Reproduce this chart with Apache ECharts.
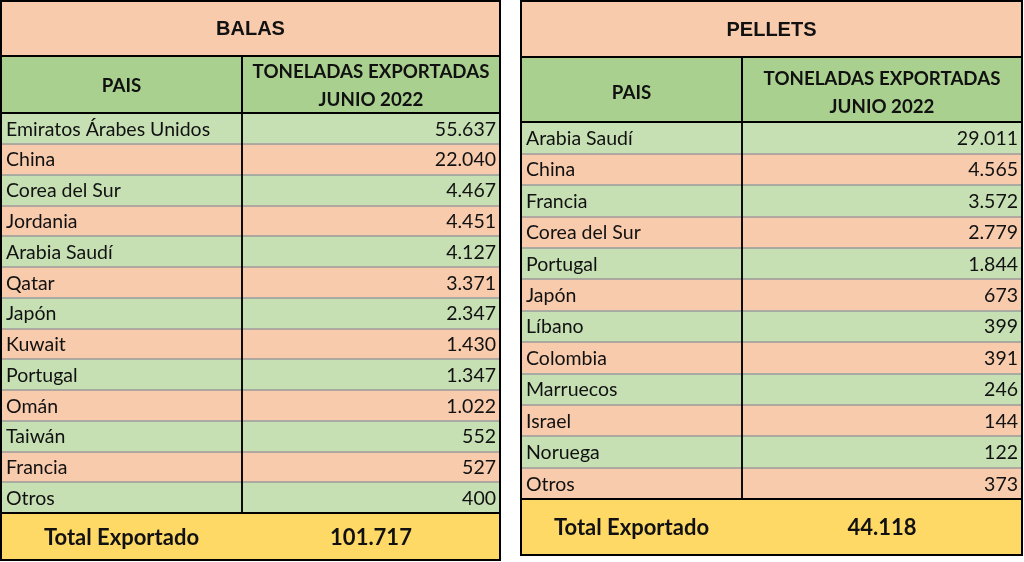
<!DOCTYPE html>
<html><head><meta charset="utf-8">
<script src="https://cdn.jsdelivr.net/npm/echarts@6/dist/echarts.min.js"></script>
<style>html,body{margin:0;padding:0;background:#fff}#c{width:1024px;height:562px}</style>
</head><body><div id="c"></div><script>
// ---------- data ----------
const balasTitle = 'BALAS';
const balasPaises = ['Emiratos Árabes Unidos','China','Corea del Sur','Jordania','Arabia Saudí','Qatar','Japón','Kuwait','Portugal','Omán','Taiwán','Francia','Otros'];
const balasToneladas = [55637,22040,4467,4451,4127,3371,2347,1430,1347,1022,552,527,400];
const balasTotal = 101717;

const pelletsTitle = 'PELLETS';
const pelletsPaises = ['Arabia Saudí','China','Francia','Corea del Sur','Portugal','Japón','Líbano','Colombia','Marruecos','Israel','Noruega','Otros'];
const pelletsToneladas = [29011,4565,3572,2779,1844,673,399,391,246,144,122,373];
const pelletsTotal = 44118;

const headerLabels = ['PAIS', 'TONELADAS EXPORTADAS\nJUNIO 2022'];
const totalLabel = 'Total Exportado';

// ---------- style ----------
const SALMON = '#F8CBAD', GREEN_H = '#A9D08E', GREEN_L = '#C6E0B4', GOLD = '#FFD966';
const TXT = '#111';
const F_TITLE = 'bold 20px "Liberation Sans", Arial, sans-serif';
const F_HEAD = 'bold 18.7px Lato, sans-serif';
const F_DATA = '19.5px Lato, sans-serif';
const F_TOTAL = 'bold 22px Lato, sans-serif';

function fmt(v) { return String(v).replace(/\B(?=(\d{3})+(?!\d))/g, '.'); }

const grids = [], xAxes = [], yAxes = [], series = [];

function hiddenCat(gi, data, inverse, splitShow, splitColor) {
  return {type: 'category', gridIndex: gi, data: data, inverse: inverse, boundaryGap: true,
    axisLine: {show: false}, axisTick: {show: false}, axisLabel: {show: false},
    splitLine: {show: splitShow, lineStyle: {color: splitColor, width: 1.5}}, z: 7};
}

// one column of cells (one grid, one category column, rows on a category y axis)
function addColumn(box, colName, rowCats, cells, rowLines, border) {
  const gi = grids.length;
  grids.push({left: box.left, top: box.top, width: box.width, height: box.height,
    show: border > 0, borderColor: '#000', borderWidth: border, backgroundColor: 'transparent', z: 10});
  xAxes.push(hiddenCat(gi, [colName], false, false, '#000'));
  yAxes.push(hiddenCat(gi, rowCats, true, rowLines, '#9a9a9a'));
  series.push({
    type: 'custom', xAxisIndex: gi, yAxisIndex: gi, silent: true, animation: false,
    data: cells.map(c => [0, c.row]),
    renderItem: function (params, api) {
      const cell = cells[params.dataIndex];
      const p = api.coord([api.value(0), api.value(1)]);
      const s = api.size([1, 1]);
      const x0 = p[0] - s[0] / 2, y0 = p[1] - s[1] / 2;
      let tx = p[0];
      if (cell.align === 'left') tx = x0 + 5;
      else if (cell.align === 'right') tx = x0 + s[0] - 4;
      return {type: 'group', children: [
        {type: 'rect', shape: {x: x0, y: y0, width: s[0] + 0.5, height: s[1]}, style: {fill: cell.fill}},
        {type: 'text', style: {text: cell.text, x: tx, y: p[1] + (cell.dy || 0), align: cell.align || 'center',
          verticalAlign: 'middle', font: cell.font, fill: TXT, lineHeight: cell.lh || 22}}
      ]};
    }
  });
}

// empty framing grid (outer border of a row block)
function addFrame(box) {
  const gi = grids.length;
  grids.push({left: box.left, top: box.top, width: box.width, height: box.height,
    show: true, borderColor: '#000', borderWidth: 2, backgroundColor: 'transparent', z: 12});
  xAxes.push({type: 'value', gridIndex: gi, show: false});
  yAxes.push({type: 'value', gridIndex: gi, show: false});
}

function buildTable(pos, title, paises, valores, total) {
  const L = pos.left, W0 = pos.col0, W1 = pos.width - pos.col0, W = pos.width;
  // title row
  addColumn({left: L, top: pos.titleTop, width: W, height: pos.titleH}, title, [title],
    [{row: 0, text: title, fill: SALMON, font: F_TITLE, dy: 1}], false, 2);
  // header row
  addColumn({left: L, top: pos.headTop, width: W0, height: pos.headH}, headerLabels[0], ['h'],
    [{row: 0, text: headerLabels[0], fill: GREEN_H, font: F_HEAD, dy: pos.headDy}], false, 2);
  addColumn({left: L + W0, top: pos.headTop, width: W1, height: pos.headH}, headerLabels[1], ['h'],
    [{row: 0, text: headerLabels[1], fill: GREEN_H, font: F_HEAD, lh: 28, dy: pos.headDy}], false, 2);
  // data rows
  const c0 = [], c1 = [];
  paises.forEach((p, i) => {
    const fill = i % 2 === 0 ? GREEN_L : SALMON;
    c0.push({row: i, text: p, fill: fill, font: F_DATA, align: 'left', dy: 1});
    c1.push({row: i, text: fmt(valores[i]), fill: fill, font: F_DATA, align: 'right', dy: 1});
  });
  addColumn({left: L, top: pos.dataTop, width: W0, height: pos.dataH}, headerLabels[0], paises, c0, true, 1.5);
  addColumn({left: L + W0, top: pos.dataTop, width: W1, height: pos.dataH}, headerLabels[1], paises, c1, true, 1.5);
  addFrame({left: L, top: pos.dataTop, width: W, height: pos.dataH});
  // total row
  addColumn({left: L, top: pos.totTop, width: W0, height: pos.totH}, headerLabels[0], [totalLabel],
    [{row: 0, text: totalLabel, fill: GOLD, font: F_TOTAL, dy: 1}], false, 0);
  addColumn({left: L + W0, top: pos.totTop, width: W1, height: pos.totH}, headerLabels[1], [totalLabel],
    [{row: 0, text: fmt(total), fill: GOLD, font: F_TOTAL, dy: 1}], false, 0);
  addFrame({left: L, top: pos.totTop, width: W, height: pos.totH});
}

buildTable({left: 1, width: 499, col0: 241, titleTop: 1, titleH: 55, headTop: 56, headH: 57, headDy: 1,
  dataTop: 113, dataH: 400, totTop: 513, totH: 47},
  balasTitle, balasPaises, balasToneladas, balasTotal);
buildTable({left: 521, width: 501, col0: 221, titleTop: 1, titleH: 56, headTop: 57, headH: 65, headDy: 3,
  dataTop: 122, dataH: 377, totTop: 499, totH: 56},
  pelletsTitle, pelletsPaises, pelletsToneladas, pelletsTotal);

const chart = echarts.init(document.getElementById('c'), null, {renderer: 'canvas'});
chart.setOption({animation: false, grid: grids, xAxis: xAxes, yAxis: yAxes, series: series});
</script></body></html>
